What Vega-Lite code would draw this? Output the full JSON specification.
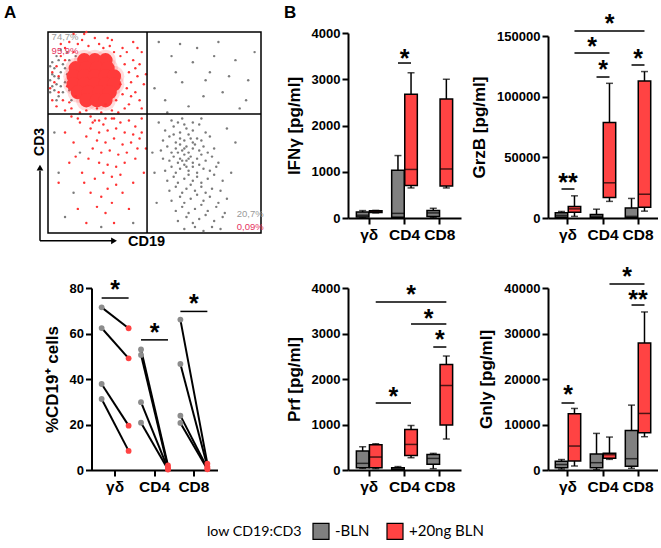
{
"$schema": "https://vega.github.io/schema/vega-lite/v6.json",
"padding": {"left": 3, "top": 3, "right": 0, "bottom": 4},
"autosize": {"type": "pad"},
"datasets": {
"flow_neg": [
{"CD19":1,"CD3":76},{"CD19":2,"CD3":79},{"CD19":3,"CD3":82},{"CD19":4,"CD3":74},{"CD19":5,"CD3":77},{"CD19":6,"CD3":80},{"CD19":7,"CD3":84},{"CD19":8,"CD3":75},{"CD19":3,"CD3":71},{"CD19":5,"CD3":86},{"CD19":2,"CD3":73},{"CD19":9,"CD3":79},{"CD19":10,"CD3":86},{"CD19":4,"CD3":88},{"CD19":1,"CD3":83},{"CD19":7,"CD3":70},{"CD19":6,"CD3":73},{"CD19":11,"CD3":74},{"CD19":12,"CD3":84},{"CD19":3,"CD3":78},{"CD19":8,"CD3":82},{"CD19":10,"CD3":71},{"CD19":2,"CD3":85},{"CD19":5,"CD3":68},{"CD19":13,"CD3":88},{"CD19":9,"CD3":90},{"CD19":1,"CD3":70},{"CD19":6,"CD3":91},{"CD19":4,"CD3":66},{"CD19":11,"CD3":66},
{"CD19":52,"CD3":95},{"CD19":58,"CD3":88},{"CD19":63,"CD3":75},{"CD19":70,"CD3":92},{"CD19":76,"CD3":80},{"CD19":82,"CD3":70},{"CD19":88,"CD3":86},{"CD19":94,"CD3":76},{"CD19":55,"CD3":66},{"CD19":66,"CD3":63},{"CD19":73,"CD3":68},{"CD19":80,"CD3":95},{"CD19":90,"CD3":62},{"CD19":60,"CD3":80},{"CD19":68,"CD3":85},{"CD19":85,"CD3":78},{"CD19":97,"CD3":90},{"CD19":50,"CD3":72},{"CD19":78,"CD3":88},{"CD19":93,"CD3":66},{"CD19":62,"CD3":94},{"CD19":56,"CD3":60},{"CD19":74,"CD3":76},
{"CD19":5,"CD3":30},{"CD19":12,"CD3":20},{"CD19":8,"CD3":8},{"CD19":40,"CD3":5},{"CD19":3,"CD3":50},{"CD19":15,"CD3":40},{"CD19":25,"CD3":3},
{"CD19":58,"CD3":56},{"CD19":63,"CD3":57},{"CD19":68,"CD3":55},{"CD19":72,"CD3":57},{"CD19":61,"CD3":55},
{"CD19":55,"CD3":51},{"CD19":59,"CD3":53},{"CD19":62,"CD3":50},{"CD19":65,"CD3":52},{"CD19":68,"CD3":51},{"CD19":71,"CD3":54},{"CD19":74,"CD3":50},{"CD19":64,"CD3":54},
{"CD19":54,"CD3":46},{"CD19":57,"CD3":48},{"CD19":60,"CD3":45},{"CD19":62,"CD3":47},{"CD19":64,"CD3":46},{"CD19":66,"CD3":49},{"CD19":68,"CD3":45},{"CD19":70,"CD3":47},{"CD19":72,"CD3":46},{"CD19":76,"CD3":48},{"CD19":59,"CD3":49},{"CD19":67,"CD3":47},
{"CD19":53,"CD3":41},{"CD19":56,"CD3":43},{"CD19":58,"CD3":40},{"CD19":60,"CD3":42},{"CD19":62,"CD3":44},{"CD19":63,"CD3":41},{"CD19":65,"CD3":43},{"CD19":66,"CD3":40},{"CD19":68,"CD3":42},{"CD19":69,"CD3":44},{"CD19":71,"CD3":41},{"CD19":73,"CD3":43},{"CD19":75,"CD3":40},{"CD19":78,"CD3":42},{"CD19":61,"CD3":40},{"CD19":64,"CD3":42},
{"CD19":54,"CD3":37},{"CD19":57,"CD3":36},{"CD19":59,"CD3":38},{"CD19":61,"CD3":35},{"CD19":62,"CD3":37},{"CD19":64,"CD3":39},{"CD19":65,"CD3":36},{"CD19":67,"CD3":38},{"CD19":68,"CD3":35},{"CD19":70,"CD3":37},{"CD19":72,"CD3":39},{"CD19":74,"CD3":36},{"CD19":77,"CD3":38},{"CD19":80,"CD3":35},{"CD19":63,"CD3":36},{"CD19":66,"CD3":37},
{"CD19":55,"CD3":31},{"CD19":58,"CD3":33},{"CD19":60,"CD3":30},{"CD19":62,"CD3":32},{"CD19":64,"CD3":34},{"CD19":66,"CD3":31},{"CD19":68,"CD3":33},{"CD19":70,"CD3":30},{"CD19":71,"CD3":34},{"CD19":73,"CD3":32},{"CD19":76,"CD3":31},{"CD19":79,"CD3":33},{"CD19":65,"CD3":33},
{"CD19":56,"CD3":26},{"CD19":59,"CD3":28},{"CD19":61,"CD3":25},{"CD19":64,"CD3":27},{"CD19":66,"CD3":29},{"CD19":68,"CD3":26},{"CD19":70,"CD3":28},{"CD19":72,"CD3":25},{"CD19":75,"CD3":27},{"CD19":78,"CD3":29},{"CD19":82,"CD3":26},
{"CD19":57,"CD3":21},{"CD19":60,"CD3":23},{"CD19":63,"CD3":20},{"CD19":65,"CD3":22},{"CD19":67,"CD3":24},{"CD19":69,"CD3":21},{"CD19":72,"CD3":23},{"CD19":74,"CD3":20},{"CD19":77,"CD3":22},{"CD19":81,"CD3":21},
{"CD19":58,"CD3":16},{"CD19":62,"CD3":18},{"CD19":64,"CD3":15},{"CD19":67,"CD3":17},{"CD19":70,"CD3":19},{"CD19":73,"CD3":16},{"CD19":76,"CD3":18},{"CD19":80,"CD3":15},{"CD19":84,"CD3":17},
{"CD19":60,"CD3":11},{"CD19":63,"CD3":13},{"CD19":66,"CD3":10},{"CD19":69,"CD3":12},{"CD19":72,"CD3":14},{"CD19":75,"CD3":11},{"CD19":79,"CD3":13},{"CD19":83,"CD3":10},
{"CD19":61,"CD3":6},{"CD19":65,"CD3":8},{"CD19":68,"CD3":5},{"CD19":71,"CD3":7},{"CD19":74,"CD3":9},{"CD19":78,"CD3":6},{"CD19":82,"CD3":8},
{"CD19":64,"CD3":2},{"CD19":69,"CD3":3},{"CD19":73,"CD3":1},{"CD19":77,"CD3":3},{"CD19":81,"CD3":2},
{"CD19":50,"CD3":30},{"CD19":51,"CD3":15},{"CD19":86,"CD3":30},{"CD19":88,"CD3":45},{"CD19":52,"CD3":55},{"CD19":84,"CD3":52},{"CD19":49,"CD3":40}
],
"flow_core": [
{"CD19":17,"CD3":86},{"CD19":22,"CD3":86},{"CD19":27,"CD3":86},
{"CD19":13,"CD3":82},{"CD19":18,"CD3":82},{"CD19":23,"CD3":82},{"CD19":28,"CD3":82},
{"CD19":12,"CD3":78},{"CD19":17,"CD3":78},{"CD19":22,"CD3":78},{"CD19":27,"CD3":78},{"CD19":31,"CD3":78},
{"CD19":12,"CD3":74},{"CD19":17,"CD3":74},{"CD19":22,"CD3":74},{"CD19":27,"CD3":74},{"CD19":31,"CD3":74},
{"CD19":14,"CD3":70},{"CD19":19,"CD3":70},{"CD19":24,"CD3":70},{"CD19":29,"CD3":70},
{"CD19":18,"CD3":66},{"CD19":23,"CD3":66},{"CD19":27,"CD3":66}
],
"flow_pos": [
{"CD19":3,"CD3":75},{"CD19":4,"CD3":83},{"CD19":5,"CD3":70},{"CD19":6,"CD3":88},{"CD19":7,"CD3":66},{"CD19":8,"CD3":92},{"CD19":9,"CD3":73},{"CD19":10,"CD3":95},{"CD19":11,"CD3":62},{"CD19":12,"CD3":90},{"CD19":13,"CD3":68},{"CD19":14,"CD3":94},{"CD19":15,"CD3":60},{"CD19":16,"CD3":96},{"CD19":18,"CD3":61},{"CD19":19,"CD3":93},{"CD19":20,"CD3":58},{"CD19":22,"CD3":97},{"CD19":23,"CD3":62},{"CD19":24,"CD3":94},{"CD19":25,"CD3":60},{"CD19":26,"CD3":92},{"CD19":27,"CD3":64},{"CD19":29,"CD3":93},{"CD19":30,"CD3":61},{"CD19":31,"CD3":90},{"CD19":32,"CD3":66},{"CD19":34,"CD3":88},{"CD19":35,"CD3":69},{"CD19":36,"CD3":84},{"CD19":37,"CD3":72},{"CD19":38,"CD3":80},{"CD19":39,"CD3":75},{"CD19":40,"CD3":86},{"CD19":41,"CD3":70},{"CD19":42,"CD3":78},{"CD19":43,"CD3":66},{"CD19":44,"CD3":90},{"CD19":45,"CD3":74},{"CD19":35,"CD3":92},{"CD19":38,"CD3":64},{"CD19":33,"CD3":60},{"CD19":28,"CD3":97},{"CD19":12,"CD3":99},{"CD19":6,"CD3":94},{"CD19":2,"CD3":80},{"CD19":2,"CD3":66},{"CD19":8,"CD3":61},{"CD19":17,"CD3":99},{"CD19":40,"CD3":95},{"CD19":44,"CD3":62},{"CD19":10,"CD3":65},{"CD19":30,"CD3":96},{"CD19":36,"CD3":62},{"CD19":41,"CD3":82},{"CD19":37,"CD3":90},{"CD19":5,"CD3":78},{"CD19":4,"CD3":63},{"CD19":34,"CD3":74},{"CD19":39,"CD3":68},{"CD19":43,"CD3":84},{"CD19":46,"CD3":79},{"CD19":24,"CD3":56},{"CD19":14,"CD3":57},{"CD19":31,"CD3":57},{"CD19":21,"CD3":55},{"CD19":8,"CD3":86},{"CD19":11,"CD3":58},{"CD19":27,"CD3":57},{"CD19":18,"CD3":100},{"CD19":42,"CD3":92},{"CD19":1,"CD3":72},
{"CD19":22,"CD3":56},{"CD19":26,"CD3":54},{"CD19":30,"CD3":57},{"CD19":34,"CD3":55},{"CD19":38,"CD3":56},{"CD19":41,"CD3":53},{"CD19":44,"CD3":57},{"CD19":20,"CD3":52},{"CD19":24,"CD3":50},{"CD19":28,"CD3":51},{"CD19":32,"CD3":52},{"CD19":36,"CD3":50},{"CD19":40,"CD3":49},{"CD19":43,"CD3":47},{"CD19":18,"CD3":48},{"CD19":23,"CD3":46},{"CD19":27,"CD3":45},{"CD19":31,"CD3":47},{"CD19":35,"CD3":44},{"CD19":39,"CD3":45},{"CD19":42,"CD3":42},{"CD19":21,"CD3":42},{"CD19":25,"CD3":40},{"CD19":29,"CD3":41},{"CD19":33,"CD3":39},{"CD19":37,"CD3":40},{"CD19":41,"CD3":37},{"CD19":19,"CD3":37},{"CD19":24,"CD3":35},{"CD19":28,"CD3":34},{"CD19":32,"CD3":33},{"CD19":36,"CD3":35},{"CD19":26,"CD3":30},{"CD19":30,"CD3":28},{"CD19":34,"CD3":29},{"CD19":22,"CD3":27},{"CD19":28,"CD3":22},{"CD19":32,"CD3":24},{"CD19":25,"CD3":18},{"CD19":30,"CD3":15},{"CD19":20,"CD3":20},{"CD19":35,"CD3":20},{"CD19":16,"CD3":30},{"CD19":12,"CD3":45},{"CD19":10,"CD3":35},{"CD19":15,"CD3":55},{"CD19":8,"CD3":50},{"CD19":45,"CD3":30},{"CD19":40,"CD3":25},{"CD19":27,"CD3":10},{"CD19":14,"CD3":12},{"CD19":38,"CD3":12},{"CD19":5,"CD3":25},{"CD19":18,"CD3":5},{"CD19":31,"CD3":5},{"CD19":44,"CD3":50},{"CD19":46,"CD3":42},{"CD19":13,"CD3":38},{"CD19":17,"CD3":25},{"CD19":23,"CD3":13}
],
"flow_rules": [
{"CD19":46.5,"CD3":0,"CD19_end":46.5,"CD3_end":100},
{"CD19":0,"CD3":59.2,"CD19_end":100,"CD3_end":59.2},
{"CD19":-3.76,"CD3":-3.9,"CD19_end":-3.76,"CD3_end":31},
{"CD19":-3.76,"CD3":-3.9,"CD19_end":30,"CD3_end":-3.9}
],
"flow_heads": [{"CD19":-3.76,"CD3":32.5,"dir":"up"},{"CD19":31,"CD3":-3.9,"dir":"right"}],
"panel_letters": [{"CD19":-20.66,"CD3":113.4,"label":"A"},{"CD19":110.8,"CD3":113.4,"label":"B"}],
"flow_ylab": [{"CD19":-3.76,"CD3":45.3,"label":"CD3"}],
"flow_xlab": [{"CD19":37.6,"CD3":-4.3,"label":"CD19"}],
"flow_pct_neg": [{"CD19":1.7,"CD3":97.7,"label":"74,7%"},{"CD19":88.6,"CD3":9.5,"label":"20,7%"}],
"flow_pct_pos": [{"CD19":1.7,"CD3":90.5,"label":"95,9%"},{"CD19":88.6,"CD3":3,"label":"0,09%"}],
"cd19": [
{"cell":"γδ","donor":"d1","cond":"-BLN","pct":71.5},{"cell":"γδ","donor":"d1","cond":"+20ng BLN","pct":62.3},
{"cell":"γδ","donor":"d2","cond":"-BLN","pct":62.4},{"cell":"γδ","donor":"d2","cond":"+20ng BLN","pct":49.1},
{"cell":"γδ","donor":"d3","cond":"-BLN","pct":37.8},{"cell":"γδ","donor":"d3","cond":"+20ng BLN","pct":19.5},
{"cell":"γδ","donor":"d4","cond":"-BLN","pct":31.2},{"cell":"γδ","donor":"d4","cond":"+20ng BLN","pct":8.4},
{"cell":"CD4","donor":"d1","cond":"-BLN","pct":53},{"cell":"CD4","donor":"d1","cond":"+20ng BLN","pct":2.0},
{"cell":"CD4","donor":"d2","cond":"-BLN","pct":50.6},{"cell":"CD4","donor":"d2","cond":"+20ng BLN","pct":1.0},
{"cell":"CD4","donor":"d3","cond":"-BLN","pct":29.8},{"cell":"CD4","donor":"d3","cond":"+20ng BLN","pct":0.5},
{"cell":"CD4","donor":"d4","cond":"-BLN","pct":20.8},{"cell":"CD4","donor":"d4","cond":"+20ng BLN","pct":0.2},
{"cell":"CD8","donor":"d1","cond":"-BLN","pct":66.1},{"cell":"CD8","donor":"d1","cond":"+20ng BLN","pct":2.8},
{"cell":"CD8","donor":"d2","cond":"-BLN","pct":46.6},{"cell":"CD8","donor":"d2","cond":"+20ng BLN","pct":1.5},
{"cell":"CD8","donor":"d3","cond":"-BLN","pct":23.9},{"cell":"CD8","donor":"d3","cond":"+20ng BLN","pct":0.8},
{"cell":"CD8","donor":"d4","cond":"-BLN","pct":20.7},{"cell":"CD8","donor":"d4","cond":"+20ng BLN","pct":0.3}
],
"cd19_sig": [
{"id":"a","cell":"γδ","cond":"-BLN","y":75.6},{"id":"a","cell":"γδ","cond":"+20ng BLN","y":75.6},
{"id":"b","cell":"CD4","cond":"-BLN","y":57.2},{"id":"b","cell":"CD4","cond":"+20ng BLN","y":57.2},
{"id":"c","cell":"CD8","cond":"-BLN","y":69.7},{"id":"c","cell":"CD8","cond":"+20ng BLN","y":69.7}
],
"cd19_star": [{"cell":"γδ","y":81.8,"label":"*","kind":"pair"},{"cell":"CD4","y":63,"label":"*","kind":"pair"},{"cell":"CD8","y":75.5,"label":"*","kind":"pair"}],
"ifng": [
{"cell":"γδ","cond":"-BLN","min":10,"q1":20,"median":60,"q3":130,"max":160},
{"cell":"γδ","cond":"+20ng BLN","min":110,"q1":118,"median":140,"q3":158,"max":165},
{"cell":"CD4","cond":"-BLN","min":0,"q1":15,"median":100,"q3":1030,"max":1350},
{"cell":"CD4","cond":"+20ng BLN","min":650,"q1":705,"median":1050,"q3":2676,"max":3140},
{"cell":"CD8","cond":"-BLN","min":10,"q1":30,"median":110,"q3":160,"max":210},
{"cell":"CD8","cond":"+20ng BLN","min":650,"q1":690,"median":1060,"q3":2573,"max":3000}
],
"ifng_sig": [{"id":"a","cell":"CD4","cond":"-BLN","y":3351},{"id":"a","cell":"CD4","cond":"+20ng BLN","y":3351}],
"ifng_star": [{"cell":"CD4","y":3568,"label":"*","kind":"pair"}],
"grzb": [
{"cell":"γδ","cond":"-BLN","min":0,"q1":550,"median":2150,"q3":4300,"max":5380},
{"cell":"γδ","cond":"+20ng BLN","min":1340,"q1":4840,"median":7530,"q3":9400,"max":18280},
{"cell":"CD4","cond":"-BLN","min":0,"q1":270,"median":1340,"q3":2960,"max":7260},
{"cell":"CD4","cond":"+20ng BLN","min":13700,"q1":16940,"median":29000,"q3":78700,"max":111000},
{"cell":"CD8","cond":"-BLN","min":0,"q1":270,"median":1340,"q3":8330,"max":16130},
{"cell":"CD8","cond":"+20ng BLN","min":5650,"q1":8870,"median":19600,"q3":113000,"max":120700}
],
"grzb_sig": [
{"id":"a","cell":"γδ","cond":"-BLN","y":23900},{"id":"a","cell":"γδ","cond":"+20ng BLN","y":23900},
{"id":"b","cell":"CD4","cond":"-BLN","y":116200},{"id":"b","cell":"CD4","cond":"+20ng BLN","y":116200},
{"id":"c","cell":"CD8","cond":"-BLN","y":126100},{"id":"c","cell":"CD8","cond":"+20ng BLN","y":126100},
{"id":"d","cell":"γδ","cond":"+20ng BLN","y":136000},{"id":"d","cell":"CD4","cond":"+20ng BLN","y":136000},
{"id":"e","cell":"γδ","cond":"+20ng BLN","y":154100},{"id":"e","cell":"CD8","cond":"+20ng BLN","y":154100}
],
"grzb_star": [
{"cell":"γδ","y":34000,"label":"**","kind":"pair"},{"cell":"CD4","y":127000,"label":"*","kind":"pair"},{"cell":"CD8","y":136000,"label":"*","kind":"pair"},
{"cell":"CD4","y":145900,"label":"*","kind":"adjacent"},{"cell":"CD4","y":164800,"label":"*","kind":"across"}
],
"prf": [
{"cell":"γδ","cond":"-BLN","min":36,"q1":51,"median":146,"q3":416,"max":511},
{"cell":"γδ","cond":"+20ng BLN","min":30,"q1":51,"median":285,"q3":555,"max":577},
{"cell":"CD4","cond":"-BLN","min":0,"q1":5,"median":20,"q3":50,"max":75},
{"cell":"CD4","cond":"+20ng BLN","min":270,"q1":321,"median":562,"q3":891,"max":978},
{"cell":"CD8","cond":"-BLN","min":29,"q1":124,"median":255,"q3":343,"max":365},
{"cell":"CD8","cond":"+20ng BLN","min":681,"q1":989,"median":1857,"q3":2318,"max":2505}
],
"prf_sig": [
{"id":"a","cell":"γδ","cond":"+20ng BLN","y":1473},{"id":"a","cell":"CD4","cond":"+20ng BLN","y":1473},
{"id":"b","cell":"γδ","cond":"+20ng BLN","y":3692},{"id":"b","cell":"CD8","cond":"+20ng BLN","y":3692},
{"id":"c","cell":"CD4","cond":"+20ng BLN","y":3209},{"id":"c","cell":"CD8","cond":"+20ng BLN","y":3209},
{"id":"d","cell":"CD8","cond":"-BLN","y":2703},{"id":"d","cell":"CD8","cond":"+20ng BLN","y":2703}
],
"prf_star": [
{"cell":"CD4","y":1736,"label":"*","kind":"adjacent"},{"cell":"CD4","y":3978,"label":"*","kind":"across"},
{"cell":"CD8","y":3451,"label":"*","kind":"adjacent"},{"cell":"CD8","y":2989,"label":"*","kind":"pair"}
],
"gnly": [
{"cell":"γδ","cond":"-BLN","min":200,"q1":500,"median":1200,"q3":1950,"max":2300},
{"cell":"γδ","cond":"+20ng BLN","min":877,"q1":1975,"median":5265,"q3":12360,"max":13530},
{"cell":"CD4","cond":"-BLN","min":73,"q1":512,"median":1609,"q3":3510,"max":8044},
{"cell":"CD4","cond":"+20ng BLN","min":2340,"q1":2560,"median":3364,"q3":3656,"max":7240},
{"cell":"CD8","cond":"-BLN","min":366,"q1":804,"median":2486,"q3":8702,"max":14260},
{"cell":"CD8","cond":"+20ng BLN","min":7313,"q1":8190,"median":12431,"q3":27934,"max":34735}
],
"gnly_sig": [
{"id":"a","cell":"γδ","cond":"-BLN","y":14725},{"id":"a","cell":"γδ","cond":"+20ng BLN","y":14725},
{"id":"b","cell":"CD8","cond":"-BLN","y":36260},{"id":"b","cell":"CD8","cond":"+20ng BLN","y":36260},
{"id":"c","cell":"CD4","cond":"+20ng BLN","y":40880},{"id":"c","cell":"CD8","cond":"+20ng BLN","y":40880}
],
"gnly_star": [
{"cell":"γδ","y":17800,"label":"*","kind":"pair"},{"cell":"CD8","y":38680,"label":"**","kind":"pair"},{"cell":"CD8","y":43740,"label":"*","kind":"adjacent"}
]
},
"columns": 3,
"spacing": {"row": 55, "column": 87},
"bounds": "flush",
"align": "each",
"center": {"row": false, "column": true},
"resolve": {"scale": {"x": "independent", "y": "independent", "xOffset": "independent"}},
"concat": [
{
"width": 213, "height": 201,
"view": {"stroke": "black", "strokeWidth": 1.5},
"encoding": {
 "x": {"field": "CD19", "type": "quantitative", "scale": {"domain": [0, 100], "nice": false, "zero": false}, "axis": null},
 "y": {"field": "CD3", "type": "quantitative", "scale": {"domain": [0, 100], "nice": false, "zero": false}, "axis": null}
},
"layer": [
 {"data": {"name": "flow_neg"}, "mark": {"type": "circle", "size": 6, "color": "#6e6e6e", "opacity": 0.9}},
 {"data": {"name": "flow_core"}, "mark": {"type": "circle", "size": 430, "color": "#ff3b3b", "opacity": 0.18}},
 {"data": {"name": "flow_core"}, "mark": {"type": "circle", "size": 200, "color": "#ff3b3b", "opacity": 1}},
 {"data": {"name": "flow_pos"}, "mark": {"type": "circle", "size": 6, "color": "#ff3333", "opacity": 1}},
 {"data": {"name": "flow_rules"}, "mark": {"type": "rule", "color": "black", "strokeWidth": 1.5}, "encoding": {"x2": {"field": "CD19_end"}, "y2": {"field": "CD3_end"}}},
 {"data": {"name": "flow_heads"}, "mark": {"type": "point", "filled": true, "color": "black", "size": 45, "opacity": 1}, "encoding": {"shape": {"field": "dir", "type": "nominal", "scale": {"domain": ["up", "right"], "range": ["triangle-up", "triangle-right"]}, "legend": null}}},
 {"data": {"name": "panel_letters"}, "mark": {"type": "text", "fontSize": 17, "fontWeight": "bold", "align": "left", "baseline": "top", "color": "black"}, "encoding": {"text": {"field": "label"}}},
 {"data": {"name": "flow_ylab"}, "mark": {"type": "text", "fontSize": 14, "fontWeight": "bold", "angle": 270, "align": "center", "baseline": "middle", "color": "black"}, "encoding": {"text": {"field": "label"}}},
 {"data": {"name": "flow_xlab"}, "mark": {"type": "text", "fontSize": 14.5, "fontWeight": "bold", "align": "left", "baseline": "middle", "color": "black"}, "encoding": {"text": {"field": "label"}}},
 {"data": {"name": "flow_pct_neg"}, "mark": {"type": "text", "fontSize": 9.5, "align": "left", "baseline": "middle", "color": "#9a9a9a"}, "encoding": {"text": {"field": "label"}}},
 {"data": {"name": "flow_pct_pos"}, "mark": {"type": "text", "fontSize": 9.5, "align": "left", "baseline": "middle", "color": "#e6335f"}, "encoding": {"text": {"field": "label"}}}
]
},
{
"width": 113, "height": 186,
"data": {"name": "ifng"},
"encoding": {"x": {"field": "cell", "type": "nominal", "title": null, "scale": {"domain": ["γδ", "CD4", "CD8"], "paddingInner": 0, "paddingOuter": 0.1}}},
"layer": [
 {"mark": {"type": "rule", "color": "black", "strokeWidth": 1.5}, "encoding": {"xOffset": {"field": "cond", "type": "nominal", "scale": {"domain": ["-BLN", "+20ng BLN"], "paddingInner": 0.04, "paddingOuter": 0.37}}, "y": {"field": "min", "type": "quantitative", "title": "IFNγ [pg/ml]", "scale": {"domain": [0, 4000], "range": [186, 1], "nice": false}, "axis": {"values": [0, 1000, 2000, 3000, 4000], "format": "d"}}, "y2": {"field": "max"}}},
 {"mark": {"type": "tick", "color": "black", "thickness": 1.5, "size": 7}, "encoding": {"xOffset": {"field": "cond", "type": "nominal"}, "y": {"field": "max", "type": "quantitative", "title": "IFNγ [pg/ml]"}}},
 {"mark": {"type": "tick", "color": "black", "thickness": 1.5, "size": 7}, "encoding": {"xOffset": {"field": "cond", "type": "nominal"}, "y": {"field": "min", "type": "quantitative", "title": "IFNγ [pg/ml]"}}},
 {"mark": {"type": "bar", "stroke": "black", "strokeWidth": 1.5}, "encoding": {"xOffset": {"field": "cond", "type": "nominal"}, "y": {"field": "q1", "type": "quantitative", "title": "IFNγ [pg/ml]"}, "y2": {"field": "q3"}, "fill": {"field": "cond", "type": "nominal", "title": "low CD19:CD3", "scale": {"domain": ["-BLN", "+20ng BLN"], "range": ["#808080", "#ff4343"]}, "legend": {"orient": "none", "legendX": 159, "legendY": 490, "direction": "horizontal", "titleOrient": "left"}}}},
 {"mark": {"type": "tick", "color": "black", "thickness": 1.5, "size": 12.5}, "encoding": {"xOffset": {"field": "cond", "type": "nominal"}, "y": {"field": "median", "type": "quantitative", "title": "IFNγ [pg/ml]"}}},
 {"data": {"name": "ifng_sig"}, "mark": {"type": "line", "color": "black", "strokeWidth": 1.5}, "encoding": {"xOffset": {"field": "cond", "type": "nominal"}, "y": {"field": "y", "type": "quantitative", "title": "IFNγ [pg/ml]"}, "detail": {"field": "id"}}},
 {"data": {"name": "ifng_star"}, "mark": {"type": "text", "fontSize": 25, "fontWeight": "bold", "baseline": "middle", "dy": 6, "color": "black"}, "encoding": {"y": {"field": "y", "type": "quantitative", "title": "IFNγ [pg/ml]"}, "text": {"field": "label"}}}
]
},
{
"width": 110, "height": 186,
"data": {"name": "grzb"},
"encoding": {"x": {"field": "cell", "type": "nominal", "title": null, "scale": {"domain": ["γδ", "CD4", "CD8"], "paddingInner": 0, "paddingOuter": 0.071}}},
"layer": [
 {"mark": {"type": "rule", "color": "black", "strokeWidth": 1.5}, "encoding": {"xOffset": {"field": "cond", "type": "nominal", "scale": {"domain": ["-BLN", "+20ng BLN"], "paddingInner": 0.04, "paddingOuter": 0.37}}, "y": {"field": "min", "type": "quantitative", "title": "GrzB [pg/ml]", "scale": {"domain": [0, 150000], "range": [186, 4], "nice": false}, "axis": {"values": [0, 50000, 100000, 150000], "format": "d"}}, "y2": {"field": "max"}}},
 {"mark": {"type": "tick", "color": "black", "thickness": 1.5, "size": 7}, "encoding": {"xOffset": {"field": "cond", "type": "nominal"}, "y": {"field": "max", "type": "quantitative", "title": "GrzB [pg/ml]"}}},
 {"mark": {"type": "tick", "color": "black", "thickness": 1.5, "size": 7}, "encoding": {"xOffset": {"field": "cond", "type": "nominal"}, "y": {"field": "min", "type": "quantitative", "title": "GrzB [pg/ml]"}}},
 {"mark": {"type": "bar", "stroke": "black", "strokeWidth": 1.5}, "encoding": {"xOffset": {"field": "cond", "type": "nominal"}, "y": {"field": "q1", "type": "quantitative", "title": "GrzB [pg/ml]"}, "y2": {"field": "q3"}, "fill": {"field": "cond", "type": "nominal", "title": "low CD19:CD3", "scale": {"domain": ["-BLN", "+20ng BLN"], "range": ["#808080", "#ff4343"]}, "legend": {"orient": "none", "legendX": 159, "legendY": 490, "direction": "horizontal", "titleOrient": "left"}}}},
 {"mark": {"type": "tick", "color": "black", "thickness": 1.5, "size": 12.5}, "encoding": {"xOffset": {"field": "cond", "type": "nominal"}, "y": {"field": "median", "type": "quantitative", "title": "GrzB [pg/ml]"}}},
 {"data": {"name": "grzb_sig"}, "mark": {"type": "line", "color": "black", "strokeWidth": 1.5}, "encoding": {"xOffset": {"field": "cond", "type": "nominal"}, "y": {"field": "y", "type": "quantitative", "title": "GrzB [pg/ml]"}, "detail": {"field": "id"}}},
 {"data": {"name": "grzb_star"}, "transform": [{"filter": "datum.kind == 'pair'"}], "mark": {"type": "text", "fontSize": 25, "fontWeight": "bold", "baseline": "middle", "dy": 6, "color": "black"}, "encoding": {"y": {"field": "y", "type": "quantitative", "title": "GrzB [pg/ml]"}, "text": {"field": "label"}}},
 {"data": {"name": "grzb_star"}, "transform": [{"filter": "datum.kind == 'adjacent'"}], "mark": {"type": "text", "fontSize": 25, "fontWeight": "bold", "baseline": "middle", "dy": 6, "dx": 6.5, "color": "black"}, "encoding": {"x": {"field": "cell", "type": "nominal", "title": null, "bandPosition": 0}, "y": {"field": "y", "type": "quantitative", "title": "GrzB [pg/ml]"}, "text": {"field": "label"}}},
 {"data": {"name": "grzb_star"}, "transform": [{"filter": "datum.kind == 'across'"}], "mark": {"type": "text", "fontSize": 25, "fontWeight": "bold", "baseline": "middle", "dy": 6, "dx": 6.5, "color": "black"}, "encoding": {"y": {"field": "y", "type": "quantitative", "title": "GrzB [pg/ml]"}, "text": {"field": "label"}}}
]
},
{
"width": 126, "height": 182,
"data": {"name": "cd19"},
"encoding": {"x": {"field": "cell", "type": "nominal", "title": null, "scale": {"domain": ["γδ", "CD4", "CD8"], "paddingInner": 0, "paddingOuter": 0.1}}},
"layer": [
 {"mark": {"type": "line", "color": "black", "strokeWidth": 2}, "encoding": {"xOffset": {"field": "cond", "type": "nominal", "scale": {"domain": ["-BLN", "+20ng BLN"], "paddingInner": 0, "paddingOuter": 0.23}}, "y": {"field": "pct", "type": "quantitative", "title": "%CD19⁺ cells", "scale": {"domain": [0, 80], "nice": false}, "axis": {"values": [0, 20, 40, 60, 80]}}, "detail": [{"field": "cell"}, {"field": "donor"}]}},
 {"mark": {"type": "point", "filled": true, "size": 34, "opacity": 1}, "encoding": {"xOffset": {"field": "cond", "type": "nominal"}, "y": {"field": "pct", "type": "quantitative", "title": "%CD19⁺ cells"}, "color": {"field": "cond", "type": "nominal", "scale": {"domain": ["-BLN", "+20ng BLN"], "range": ["#8c8c8c", "#ff4343"]}, "legend": null}}},
 {"data": {"name": "cd19_sig"}, "mark": {"type": "line", "color": "black", "strokeWidth": 1.5}, "encoding": {"xOffset": {"field": "cond", "type": "nominal"}, "y": {"field": "y", "type": "quantitative", "title": "%CD19⁺ cells"}, "detail": {"field": "id"}}},
 {"data": {"name": "cd19_star"}, "mark": {"type": "text", "fontSize": 25, "fontWeight": "bold", "baseline": "middle", "dy": 6, "color": "black"}, "encoding": {"y": {"field": "y", "type": "quantitative", "title": "%CD19⁺ cells"}, "text": {"field": "label"}}}
]
},
{
"width": 113, "height": 182,
"data": {"name": "prf"},
"encoding": {"x": {"field": "cell", "type": "nominal", "title": null, "scale": {"domain": ["γδ", "CD4", "CD8"], "paddingInner": 0, "paddingOuter": 0.1}}},
"layer": [
 {"mark": {"type": "rule", "color": "black", "strokeWidth": 1.5}, "encoding": {"xOffset": {"field": "cond", "type": "nominal", "scale": {"domain": ["-BLN", "+20ng BLN"], "paddingInner": 0.04, "paddingOuter": 0.37}}, "y": {"field": "min", "type": "quantitative", "title": "Prf [pg/ml]", "scale": {"domain": [0, 4000], "nice": false}, "axis": {"values": [0, 1000, 2000, 3000, 4000], "format": "d"}}, "y2": {"field": "max"}}},
 {"mark": {"type": "tick", "color": "black", "thickness": 1.5, "size": 7}, "encoding": {"xOffset": {"field": "cond", "type": "nominal"}, "y": {"field": "max", "type": "quantitative", "title": "Prf [pg/ml]"}}},
 {"mark": {"type": "tick", "color": "black", "thickness": 1.5, "size": 7}, "encoding": {"xOffset": {"field": "cond", "type": "nominal"}, "y": {"field": "min", "type": "quantitative", "title": "Prf [pg/ml]"}}},
 {"mark": {"type": "bar", "stroke": "black", "strokeWidth": 1.5}, "encoding": {"xOffset": {"field": "cond", "type": "nominal"}, "y": {"field": "q1", "type": "quantitative", "title": "Prf [pg/ml]"}, "y2": {"field": "q3"}, "fill": {"field": "cond", "type": "nominal", "title": "low CD19:CD3", "scale": {"domain": ["-BLN", "+20ng BLN"], "range": ["#808080", "#ff4343"]}, "legend": {"orient": "none", "legendX": 159, "legendY": 490, "direction": "horizontal", "titleOrient": "left"}}}},
 {"mark": {"type": "tick", "color": "black", "thickness": 1.5, "size": 12.5}, "encoding": {"xOffset": {"field": "cond", "type": "nominal"}, "y": {"field": "median", "type": "quantitative", "title": "Prf [pg/ml]"}}},
 {"data": {"name": "prf_sig"}, "mark": {"type": "line", "color": "black", "strokeWidth": 1.5}, "encoding": {"xOffset": {"field": "cond", "type": "nominal"}, "y": {"field": "y", "type": "quantitative", "title": "Prf [pg/ml]"}, "detail": {"field": "id"}}},
 {"data": {"name": "prf_star"}, "transform": [{"filter": "datum.kind == 'pair'"}], "mark": {"type": "text", "fontSize": 25, "fontWeight": "bold", "baseline": "middle", "dy": 6, "color": "black"}, "encoding": {"y": {"field": "y", "type": "quantitative", "title": "Prf [pg/ml]"}, "text": {"field": "label"}}},
 {"data": {"name": "prf_star"}, "transform": [{"filter": "datum.kind == 'adjacent'"}], "mark": {"type": "text", "fontSize": 25, "fontWeight": "bold", "baseline": "middle", "dy": 6, "dx": 6.5, "color": "black"}, "encoding": {"x": {"field": "cell", "type": "nominal", "title": null, "bandPosition": 0}, "y": {"field": "y", "type": "quantitative", "title": "Prf [pg/ml]"}, "text": {"field": "label"}}},
 {"data": {"name": "prf_star"}, "transform": [{"filter": "datum.kind == 'across'"}], "mark": {"type": "text", "fontSize": 25, "fontWeight": "bold", "baseline": "middle", "dy": 6, "dx": 6.5, "color": "black"}, "encoding": {"y": {"field": "y", "type": "quantitative", "title": "Prf [pg/ml]"}, "text": {"field": "label"}}}
]
},
{
"width": 110, "height": 182,
"data": {"name": "gnly"},
"encoding": {"x": {"field": "cell", "type": "nominal", "title": null, "scale": {"domain": ["γδ", "CD4", "CD8"], "paddingInner": 0, "paddingOuter": 0.071}}},
"layer": [
 {"mark": {"type": "rule", "color": "black", "strokeWidth": 1.5}, "encoding": {"xOffset": {"field": "cond", "type": "nominal", "scale": {"domain": ["-BLN", "+20ng BLN"], "paddingInner": 0.04, "paddingOuter": 0.37}}, "y": {"field": "min", "type": "quantitative", "title": "Gnly [pg/ml]", "scale": {"domain": [0, 40000], "nice": false}, "axis": {"values": [0, 10000, 20000, 30000, 40000], "format": "d"}}, "y2": {"field": "max"}}},
 {"mark": {"type": "tick", "color": "black", "thickness": 1.5, "size": 7}, "encoding": {"xOffset": {"field": "cond", "type": "nominal"}, "y": {"field": "max", "type": "quantitative", "title": "Gnly [pg/ml]"}}},
 {"mark": {"type": "tick", "color": "black", "thickness": 1.5, "size": 7}, "encoding": {"xOffset": {"field": "cond", "type": "nominal"}, "y": {"field": "min", "type": "quantitative", "title": "Gnly [pg/ml]"}}},
 {"mark": {"type": "bar", "stroke": "black", "strokeWidth": 1.5}, "encoding": {"xOffset": {"field": "cond", "type": "nominal"}, "y": {"field": "q1", "type": "quantitative", "title": "Gnly [pg/ml]"}, "y2": {"field": "q3"}, "fill": {"field": "cond", "type": "nominal", "title": "low CD19:CD3", "scale": {"domain": ["-BLN", "+20ng BLN"], "range": ["#808080", "#ff4343"]}, "legend": {"orient": "none", "legendX": 159, "legendY": 490, "direction": "horizontal", "titleOrient": "left"}}}},
 {"mark": {"type": "tick", "color": "black", "thickness": 1.5, "size": 12.5}, "encoding": {"xOffset": {"field": "cond", "type": "nominal"}, "y": {"field": "median", "type": "quantitative", "title": "Gnly [pg/ml]"}}},
 {"data": {"name": "gnly_sig"}, "mark": {"type": "line", "color": "black", "strokeWidth": 1.5}, "encoding": {"xOffset": {"field": "cond", "type": "nominal"}, "y": {"field": "y", "type": "quantitative", "title": "Gnly [pg/ml]"}, "detail": {"field": "id"}}},
 {"data": {"name": "gnly_star"}, "transform": [{"filter": "datum.kind == 'pair'"}], "mark": {"type": "text", "fontSize": 25, "fontWeight": "bold", "baseline": "middle", "dy": 6, "color": "black"}, "encoding": {"y": {"field": "y", "type": "quantitative", "title": "Gnly [pg/ml]"}, "text": {"field": "label"}}},
 {"data": {"name": "gnly_star"}, "transform": [{"filter": "datum.kind == 'adjacent'"}], "mark": {"type": "text", "fontSize": 25, "fontWeight": "bold", "baseline": "middle", "dy": 6, "dx": 6.5, "color": "black"}, "encoding": {"x": {"field": "cell", "type": "nominal", "title": null, "bandPosition": 0}, "y": {"field": "y", "type": "quantitative", "title": "Gnly [pg/ml]"}, "text": {"field": "label"}}}
]
}
],
"config": {
 "view": {"stroke": null},
 "font": "Liberation Sans",
 "text": {"font": "Liberation Sans"},
 "axis": {"grid": false, "domainColor": "black", "domainWidth": 2, "tickColor": "black", "tickWidth": 2, "tickSize": 6, "labelFont": "Liberation Sans", "labelFontWeight": "bold", "labelColor": "black", "labelFontSize": 13, "labelPadding": 2, "titleFont": "Liberation Sans", "titleFontWeight": "bold", "titleColor": "black", "titleFontSize": 17, "titlePadding": 8},
 "axisX": {"labelFontSize": 15.5, "labelAngle": 0, "labelPadding": 3},
 "legend": {"titleFont": "Lato", "titleFontSize": 14.2, "titleFontWeight": "normal", "titleColor": "black", "titlePadding": 10, "labelFont": "Lato", "labelFontSize": 15, "labelColor": "black", "symbolType": "square", "symbolSize": 256, "symbolStrokeColor": "black", "symbolStrokeWidth": 1.2, "symbolOpacity": 1, "labelOffset": 5, "columnPadding": 14, "padding": 0}
}
}
